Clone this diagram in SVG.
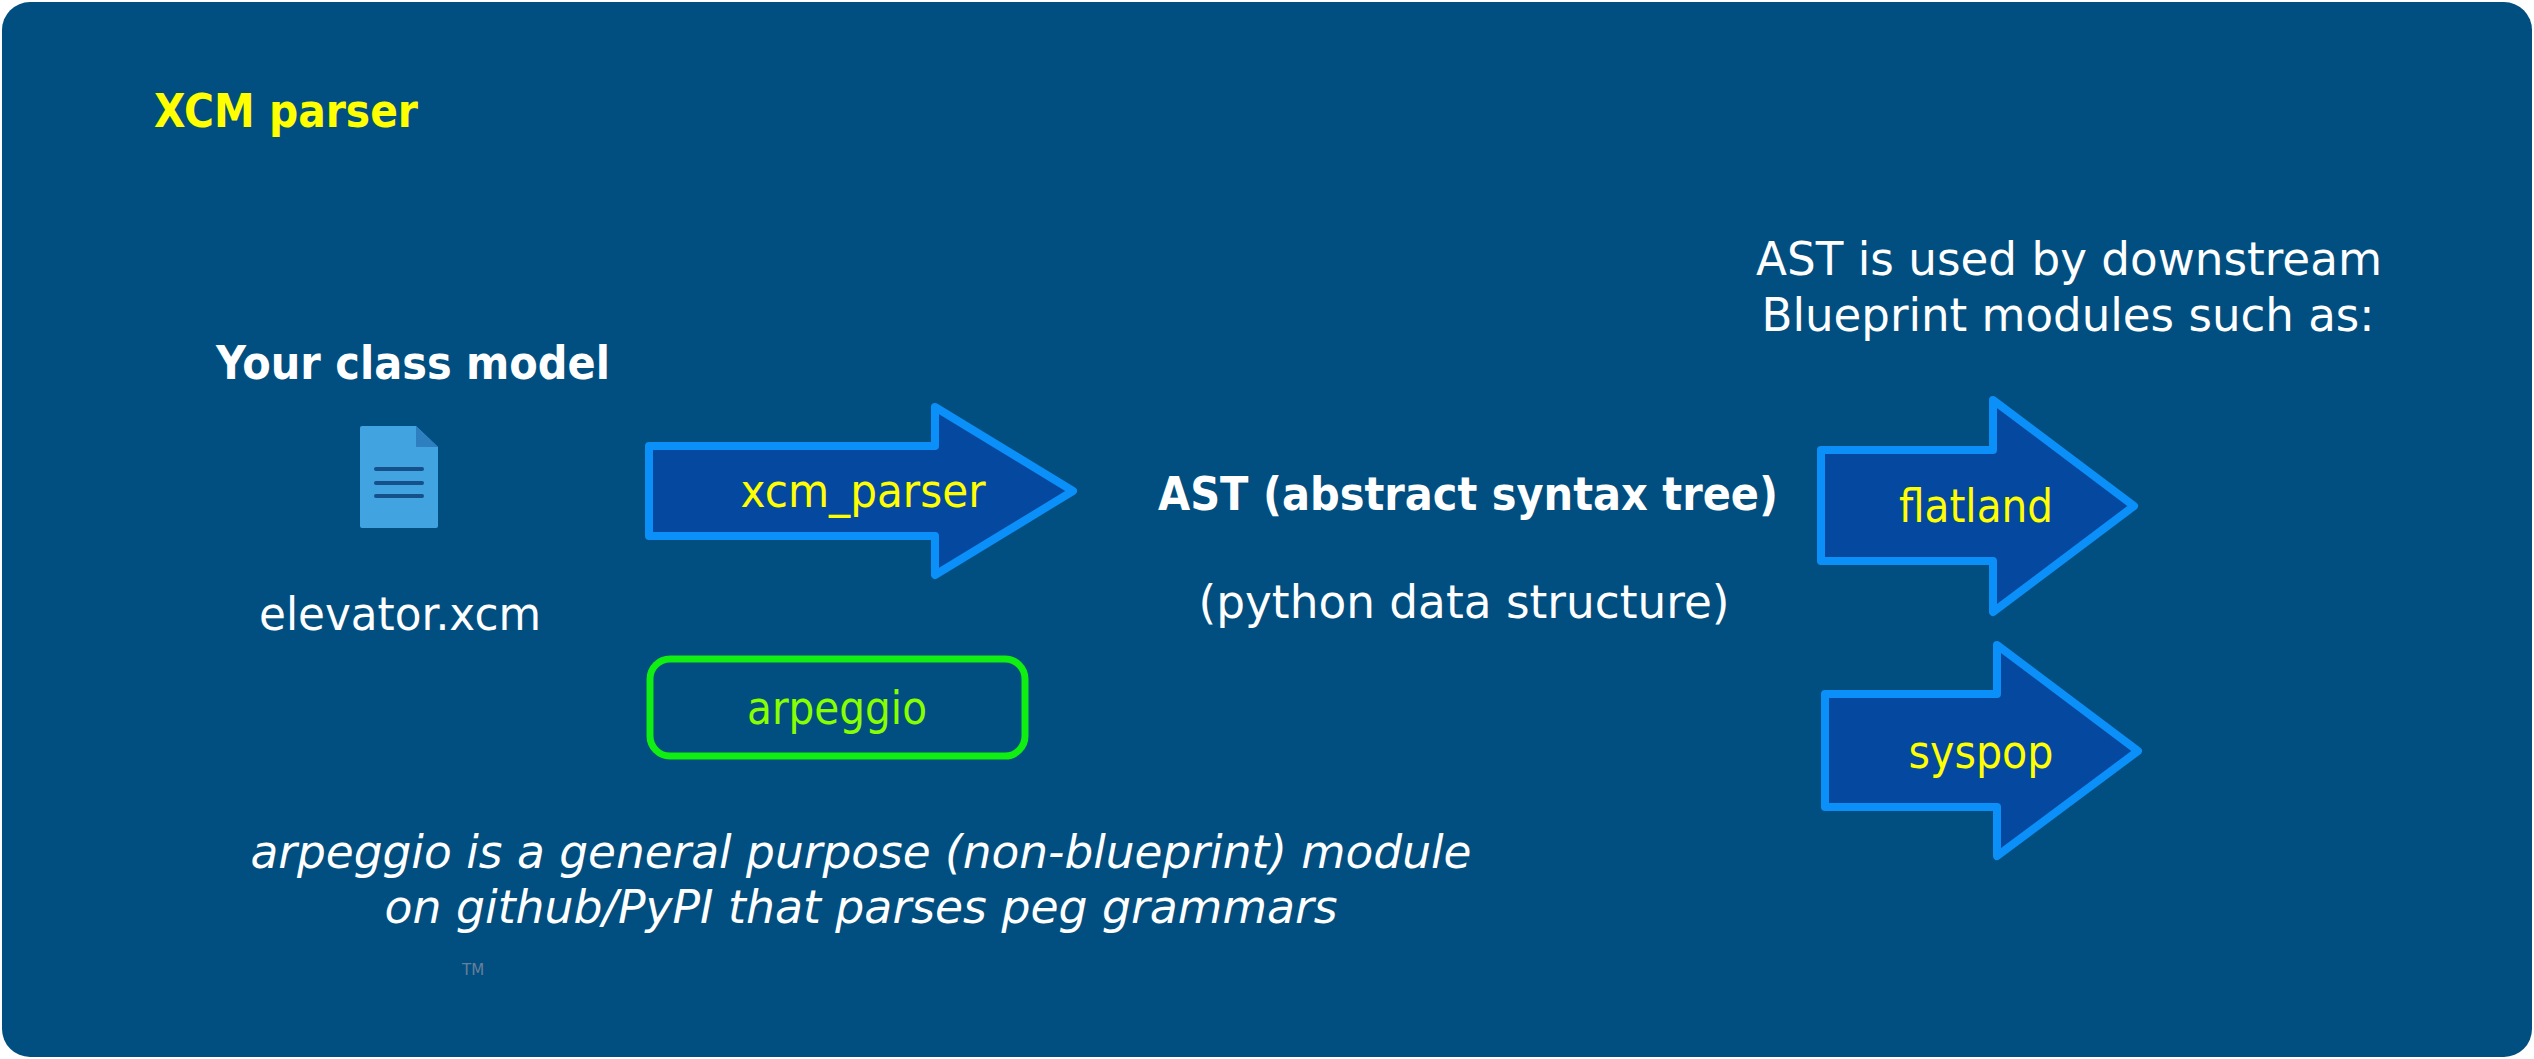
<svg xmlns="http://www.w3.org/2000/svg" width="2534" height="1059" viewBox="0 0 2534 1059">
<style>
text{font-family:"DejaVu Sans",Verdana,sans-serif}
.w{fill:#ffffff}
.y{fill:#ffff00}
.b{font-weight:bold}
.arr{fill:#0548a0;stroke:#0a90f8;stroke-width:8;stroke-linejoin:round}
</style>
<rect x="2" y="2" width="2530" height="1055" rx="28" fill="#014f80"/>
<text class="y b" x="154" y="127" font-size="46" textLength="264" lengthAdjust="spacingAndGlyphs">XCM parser</text>
<g id="model">
<text class="w b" x="216" y="379" font-size="46" textLength="394" lengthAdjust="spacingAndGlyphs">Your class model</text>
<path d="M360 428 Q360 426 362 426 L416 426 L438 447 L438 526 Q438 528 436 528 L362 528 Q360 528 360 526 Z" fill="#41a3df"/>
<path d="M416 426 L438 447 L416 447 Z" fill="#2d7fc0"/>
<g stroke="#15508a" stroke-width="4" stroke-linecap="round"><line x1="376" y1="469" x2="422" y2="469"/><line x1="376" y1="483" x2="422" y2="483"/><line x1="376" y1="496" x2="422" y2="496"/></g>
<text class="w" x="259" y="630" font-size="46" textLength="282" lengthAdjust="spacingAndGlyphs">elevator.xcm</text>
</g>
<g id="xcm_parser">
<path class="arr" d="M649 446 L935 446 L935 407 L1073 491 L935 575 L935 536 L649 536 Z"/>
<text class="y" x="863" y="507" font-size="46" text-anchor="middle" textLength="245" lengthAdjust="spacingAndGlyphs">xcm_parser</text>
</g>
<g id="arpeggio">
<rect x="650" y="659" width="375" height="97" rx="20" fill="#014f80" stroke="#11ee11" stroke-width="7"/>
<text x="837" y="724" font-size="46" fill="#88ff00" text-anchor="middle" textLength="180" lengthAdjust="spacingAndGlyphs">arpeggio</text>
</g>
<g id="note">
<text class="w" x="861" y="868" font-size="46" font-style="italic" text-anchor="middle" textLength="1221" lengthAdjust="spacingAndGlyphs">arpeggio is a general purpose (non-blueprint) module</text>
<text class="w" x="861" y="923" font-size="46" font-style="italic" text-anchor="middle" textLength="953" lengthAdjust="spacingAndGlyphs">on github/PyPI that parses peg grammars</text>
<text x="462" y="975" font-size="15" fill="#6a7f99">TM</text>
</g>
<g id="ast">
<text class="w b" x="1468" y="510" font-size="46" text-anchor="middle" textLength="620" lengthAdjust="spacingAndGlyphs">AST (abstract syntax tree)</text>
<text class="w" x="1464" y="618" font-size="46" text-anchor="middle" textLength="531" lengthAdjust="spacingAndGlyphs">(python data structure)</text>
</g>
<g id="downstream">
<text class="w" x="2069" y="275" font-size="46" text-anchor="middle" textLength="626" lengthAdjust="spacingAndGlyphs">AST is used by downstream</text>
<text class="w" x="2068" y="331" font-size="46" text-anchor="middle" textLength="613" lengthAdjust="spacingAndGlyphs">Blueprint modules such as:</text>
</g>
<g id="flatland">
<path class="arr" d="M1821 450 L1993 450 L1993 400 L2134 506 L1993 612 L1993 561 L1821 561 Z"/>
<text class="y" x="1976" y="522" font-size="46" text-anchor="middle" textLength="154" lengthAdjust="spacingAndGlyphs">flatland</text>
</g>
<g id="syspop">
<path class="arr" d="M1825 694 L1997 694 L1997 645 L2138 751 L1997 856 L1997 807 L1825 807 Z"/>
<text class="y" x="1981" y="768" font-size="46" text-anchor="middle" textLength="145" lengthAdjust="spacingAndGlyphs">syspop</text>
</g>
<g id="connectors"/>
</svg>
